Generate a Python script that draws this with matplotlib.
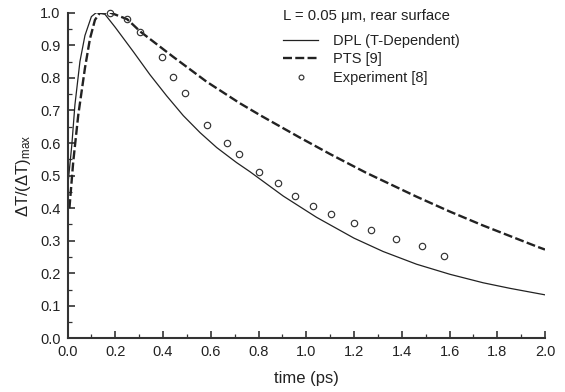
import matplotlib
matplotlib.use("Agg")
import matplotlib.pyplot as plt
from matplotlib.ticker import MultipleLocator, FormatStrFormatter

plt.rcParams['font.family'] = ['Liberation Sans', 'DejaVu Sans']
plt.rcParams['mathtext.fontset'] = 'custom'
plt.rcParams['mathtext.rm'] = 'Liberation Sans'
plt.rcParams['mathtext.it'] = 'Liberation Sans:italic'

# DPL (T-Dependent) solid curve
dpl_t = [0.0, 0.018, 0.031, 0.052, 0.073, 0.10, 0.12, 0.157, 0.20, 0.276, 0.345,
         0.415, 0.485, 0.555, 0.625, 0.708, 0.764, 0.904, 1.043, 1.20, 1.322, 1.462,
         1.602, 1.741, 1.853, 2.0]
dpl_v = [0.46, 0.594, 0.717, 0.85, 0.93, 0.988, 1.0, 0.995, 0.955, 0.88, 0.81,
         0.745, 0.684, 0.632, 0.586, 0.540, 0.512, 0.437, 0.372, 0.308, 0.267, 0.228,
         0.197, 0.171, 0.154, 0.134]

# PTS [9] dashed curve
pts_t = [0.008, 0.024, 0.045, 0.073, 0.094, 0.115, 0.136, 0.18, 0.25, 0.305, 0.44,
         0.583, 0.722, 0.81, 0.97, 1.10, 1.25, 1.46, 1.60, 1.74, 1.97, 2.0]
pts_v = [0.40, 0.543, 0.686, 0.83, 0.92, 0.978, 1.0, 1.0, 0.98, 0.942, 0.866,
         0.788, 0.722, 0.684, 0.618, 0.566, 0.509, 0.436, 0.390, 0.347, 0.281, 0.273]

# Experiment [8]
exp_t = [0.18, 0.25, 0.305, 0.395, 0.44, 0.49, 0.585, 0.667, 0.718, 0.802, 0.883,
         0.952, 1.029, 1.104, 1.202, 1.270, 1.376, 1.486, 1.577]
exp_v = [1.0, 0.98, 0.942, 0.863, 0.802, 0.754, 0.656, 0.599, 0.565, 0.511, 0.477,
         0.436, 0.406, 0.382, 0.354, 0.333, 0.306, 0.284, 0.254]

fig = plt.figure(figsize=(5.65, 3.92), dpi=100)
ax = fig.add_axes([0.1195, 0.1365, 0.8451, 0.8311])

ax.plot(dpl_t, dpl_v, color='#222222', lw=0.9, label='DPL (T-Dependent)')
ax.plot(pts_t, pts_v, color='#222222', lw=1.7, dashes=(3.8, 1.4), label='PTS [9]')
ax.plot(exp_t, exp_v, ls='none', marker='o', ms=4.6, mfc='none', mec='#333333',
        mew=0.85, label='Experiment [8]', clip_on=False)

ax.set_xlim(0, 2.0)
ax.set_ylim(0, 1.0)
ax.xaxis.set_major_locator(MultipleLocator(0.2))
ax.xaxis.set_minor_locator(MultipleLocator(0.1))
ax.yaxis.set_major_locator(MultipleLocator(0.1))
ax.yaxis.set_minor_locator(MultipleLocator(0.05))
ax.xaxis.set_major_formatter(FormatStrFormatter('%.1f'))
ax.yaxis.set_major_formatter(FormatStrFormatter('%.1f'))

for s in ['top', 'right']:
    ax.spines[s].set_visible(False)
for s in ['left', 'bottom']:
    ax.spines[s].set_linewidth(1.5)
    ax.spines[s].set_color('#333333')

ax.tick_params(which='major', direction='in', length=5, width=1.2, color='#333333',
               labelsize=10.5, labelcolor='#222222', pad=5)
ax.tick_params(which='minor', direction='in', length=3, width=0.9, color='#333333')

ax.set_xlabel('time (ps)', fontsize=12, color='#222222', labelpad=8)
ax.set_ylabel(r'$\Delta$T/($\Delta$T)$_{\mathrm{max}}$', fontsize=12, color='#222222', labelpad=5)

fig.text(283 / 565, 1 - 16 / 392, 'L = 0.05 \u03bcm, rear surface', fontsize=10.7,
         color='#222222', va='center', ha='left')
leg = fig.legend(loc='upper left', bbox_to_anchor=(283 / 565, 1 - 34 / 392),
                 frameon=False, fontsize=10.5, handlelength=2.4, handletextpad=1.0,
                 labelspacing=0.3, borderpad=0, borderaxespad=0, markerscale=0.75)
for t in leg.get_texts():
    t.set_color('#222222')

fig.savefig('out.png', dpi=100)
